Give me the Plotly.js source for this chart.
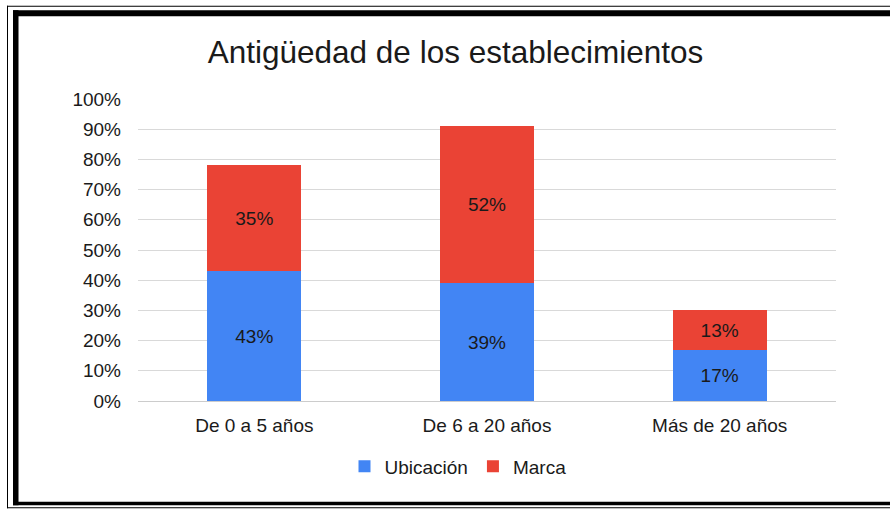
<!DOCTYPE html>
<html>
<head>
<meta charset="utf-8">
<script src="https://cdn.plot.ly/plotly-3.0.1.min.js"></script>
<style>html,body{margin:0;padding:0;background:#fff;}#chart{width:890px;height:510px;}</style>
</head>
<body>
<div id="chart"></div>
<script>
// Data
const categories = ["De 0 a 5 años", "De 6 a 20 años", "Más de 20 años"];
const ubicacion = [0.43, 0.39, 0.17];
const marca = [0.35, 0.52, 0.13];
const seriesNames = ["Ubicación", "Marca"];
const chartTitle = "Antigüedad de los establecimientos";

// Layout geometry (pixels)
const W = 890, H = 510;
const ML = 138, MR = 54, MT = 98.5, MB = 108.5;
const PW = W - ML - MR, PH = H - MT - MB;
const px = x => (x - ML) / PW;
const py = y => (H - MB - y) / PH;

const FONT = "Liberation Sans, Arial, sans-serif";
const TXT = "#1a1a1a";
const fmt = v => Math.round(v * 100) + "%";

const traces = [
  {
    type: "bar", name: seriesNames[0], x: categories, y: ubicacion,
    marker: {color: "#4285F4"},
    text: ubicacion.map(fmt), textposition: "inside", insidetextanchor: "middle",
    textfont: {family: FONT, size: 19, color: TXT}, hoverinfo: "skip"
  },
  {
    type: "bar", name: seriesNames[1], x: categories, y: marca,
    marker: {color: "#EA4335"},
    text: marca.map(fmt), textposition: "inside", insidetextanchor: "middle",
    textfont: {family: FONT, size: 19, color: TXT}, hoverinfo: "skip"
  }
];

function rect(x0, y0, x1, y1) {
  return {type: "rect", xref: "paper", yref: "paper", x0: px(x0), x1: px(x1), y0: py(y0), y1: py(y1),
          fillcolor: "#000", line: {width: 0}, layer: "above"};
}
const shapes = [
  // thin outer frame
  rect(7, 5, 900, 6),
  rect(7, 5, 8, 509),
  rect(7, 508, 900, 509),
  // thick inner frame
  rect(13, 9.5, 900, 15.5),
  rect(13, 9.5, 18.5, 506),
  rect(13, 502.5, 900, 506)
];

const layout = {
  width: W, height: H,
  margin: {l: ML, r: MR, t: MT, b: MB, pad: 0},
  paper_bgcolor: "#fff", plot_bgcolor: "#fff",
  barmode: "stack", bargap: 0.596,
  font: {family: FONT, size: 19, color: TXT},
  title: {text: chartTitle, font: {family: FONT, size: 31.5, color: TXT},
          x: 455.5 / W, xref: "container", xanchor: "center",
          y: 1 - 52 / H, yref: "container", yanchor: "middle"},
  xaxis: {type: "category", showgrid: false, zeroline: false, showline: false,
          ticks: "", ticklabelstandoff: 11, tickfont: {family: FONT, size: 19, color: TXT}},
  yaxis: {range: [0, 1], dtick: 0.1, tick0: 0, tickformat: ".0%", showgrid: true,
          gridcolor: "#d9d9d9", gridwidth: 1, zeroline: true, zerolinecolor: "#cccccc", zerolinewidth: 1,
          showline: false, ticks: "", ticklabelstandoff: 16,
          tickfont: {family: FONT, size: 19, color: TXT}},
  showlegend: true,
  legend: {orientation: "h", x: px(458), xanchor: "center", y: py(467), yanchor: "middle",
           font: {family: FONT, size: 19, color: TXT}, traceorder: "normal", itemclick: false},
  shapes: shapes
};

Plotly.newPlot("chart", traces, layout, {displayModeBar: false, staticPlot: true});
</script>
</body>
</html>
